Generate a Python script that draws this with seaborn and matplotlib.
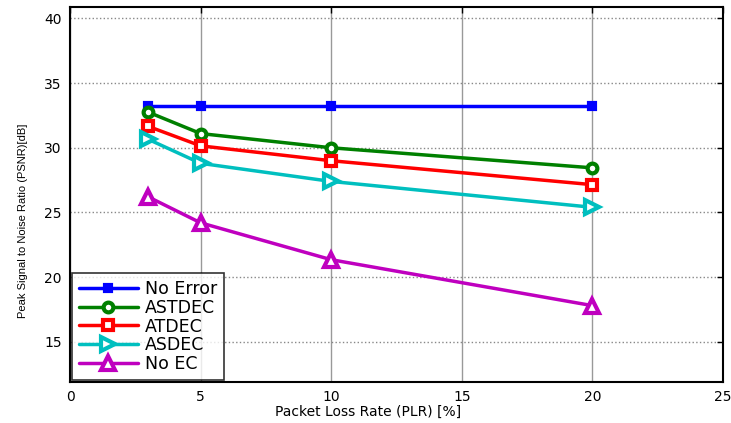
import matplotlib
matplotlib.use("Agg")
import matplotlib.pyplot as plt
import pandas as pd
import seaborn as sns

plr = [3, 5, 10, 20]
no_error = [33.2, 33.2, 33.2, 33.2]
astdec = [32.75, 31.1, 30.0, 28.45]
atdec = [31.65, 30.15, 29.0, 27.15]
asdec = [30.65, 28.8, 27.4, 25.4]
no_ec = [26.2, 24.2, 21.35, 17.8]

series = ["No Error", "ASTDEC", "ATDEC", "ASDEC", "No EC"]
colors = ["#0000ff", "#008000", "#ff0000", "#00bfbf", "#bf00bf"]
markers = ["s", "o", "s", ">", "^"]
msizes = [5, 7, 7, 10, 10]

df = pd.DataFrame({"PLR": plr * 5,
                   "PSNR": no_error + astdec + atdec + asdec + no_ec,
                   "Method": sum([[s] * 4 for s in series], [])})

sns.set_style("white")
plt.rcParams['font.family'] = ['DejaVu Sans']
plt.rcParams['text.color'] = 'black'
plt.rcParams['axes.labelcolor'] = 'black'
plt.rcParams['xtick.color'] = 'black'
plt.rcParams['ytick.color'] = 'black'

fig = plt.figure(figsize=(7.31, 4.23), dpi=100)
ax = fig.add_axes([0.0958, 0.097, 0.8933, 0.887])

for s, c, m, ms in zip(series, colors, markers, msizes):
    sub = df[df["Method"] == s]
    fc = c if s == "No Error" else "white"
    sns.lineplot(data=sub, x="PLR", y="PSNR", ax=ax, color=c, marker=m,
                 markersize=ms, linewidth=2.5, label=s,
                 markerfacecolor=fc, markeredgecolor=c, markeredgewidth=3)

ax.set_xlim(0, 25)
ax.set_ylim(11.9, 40.9)
ax.set_xticks([0, 5, 10, 15, 20, 25])
ax.set_yticks([15, 20, 25, 30, 35, 40])
ax.xaxis.grid(True, color="#999999", linestyle="-", linewidth=1)
ax.yaxis.grid(True, color="#888888", linestyle=":", linewidth=1)
ax.tick_params(axis="both", labelsize=10, direction="in", length=4, width=1,
               top=True, right=True, pad=6, colors="black")
for sp in ax.spines.values():
    sp.set_linewidth(1.5)
    sp.set_color("black")
ax.set_xlabel("Packet Loss Rate (PLR) [%]", fontsize=10)
ax.xaxis.set_label_coords(0.457, -0.06)
ax.set_ylabel("Peak Signal to Noise Ratio (PSNR)[dB]", fontsize=8,
              family=['Liberation Sans'])
ax.yaxis.set_label_coords(-0.064, 0.43)

leg = ax.legend(loc="lower left", fontsize=12.5, frameon=True, fancybox=False,
                edgecolor="black", borderaxespad=0.1, handlelength=3.4,
                labelspacing=0.05, borderpad=0.4, handletextpad=0.4)
leg.get_frame().set_linewidth(1.2)
for t in leg.get_texts():
    t.set_color("black")

plt.savefig("out.png", dpi=100)
